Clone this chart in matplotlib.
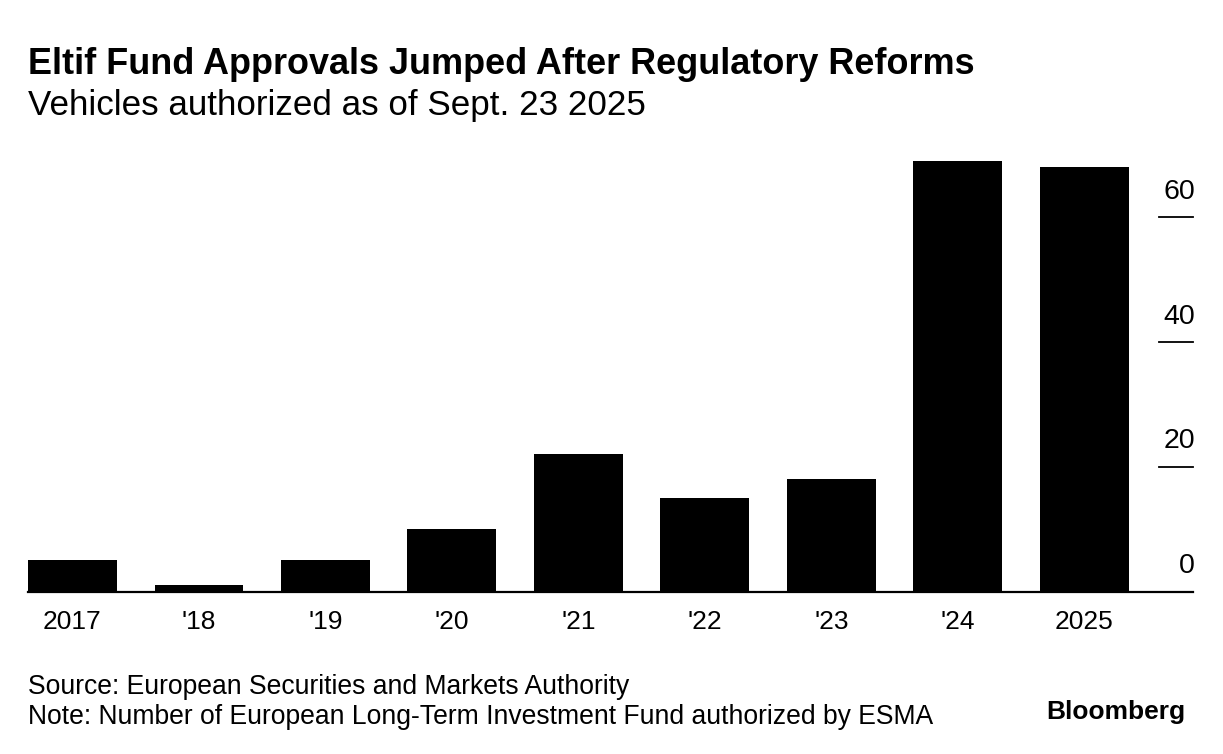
import numpy as np
import matplotlib.pyplot as plt

plt.rcParams['font.family'] = ['Liberation Sans', 'DejaVu Sans']

# data
years = ['2017', "'18", "'19", "'20", "'21", "'22", "'23", "'24", '2025']
approvals = [5, 1, 5, 10, 22, 15, 18, 69, 68]
yticks = [0, 20, 40, 60]

fig = plt.figure(figsize=(12.23, 7.54), dpi=100)
ax = fig.add_axes([0.0229, 0.2153, 0.9526, 0.5791])

x = np.arange(len(years))
ax.bar(x, approvals, width=0.7, color='black')
ax.set_xlim(-0.35, 8.86)
ax.set_ylim(0, 70)

for s in ['top', 'right', 'left']:
    ax.spines[s].set_visible(False)
ax.spines['bottom'].set_linewidth(1.6)
ax.set_xticks(x)
ax.set_xticklabels(years, fontsize=19)
ax.tick_params(axis='x', length=0, pad=13)
ax.set_yticks([])

# right side ticks: short line with label above
tr = ax.get_yaxis_transform()
for t in yticks:
    if t > 0:
        ax.plot([0.9706, 1.0], [t, t], transform=tr, color='black', lw=1.3, clip_on=False)
    ax.text(1.0015, t + 2.0, str(t), transform=tr, ha='right', va='bottom', fontsize=20.5)

fig.text(0.0229, 0.915, 'Eltif Fund Approvals Jumped After Regulatory Reforms',
         fontsize=25.9, fontweight='bold', va='center')
fig.text(0.0229, 0.86, 'Vehicles authorized as of Sept. 23 2025', fontsize=25.2, va='center')
fig.text(0.0229, 0.089, 'Source: European Securities and Markets Authority', fontsize=19.1, va='center')
fig.text(0.0229, 0.049, 'Note: Number of European Long-Term Investment Fund authorized by ESMA',
         fontsize=19.1, va='center')
fig.text(0.969, 0.056, 'Bloomberg', fontsize=19, fontweight='bold', va='center', ha='right')

fig.savefig('out.png', dpi=100, facecolor='white')
